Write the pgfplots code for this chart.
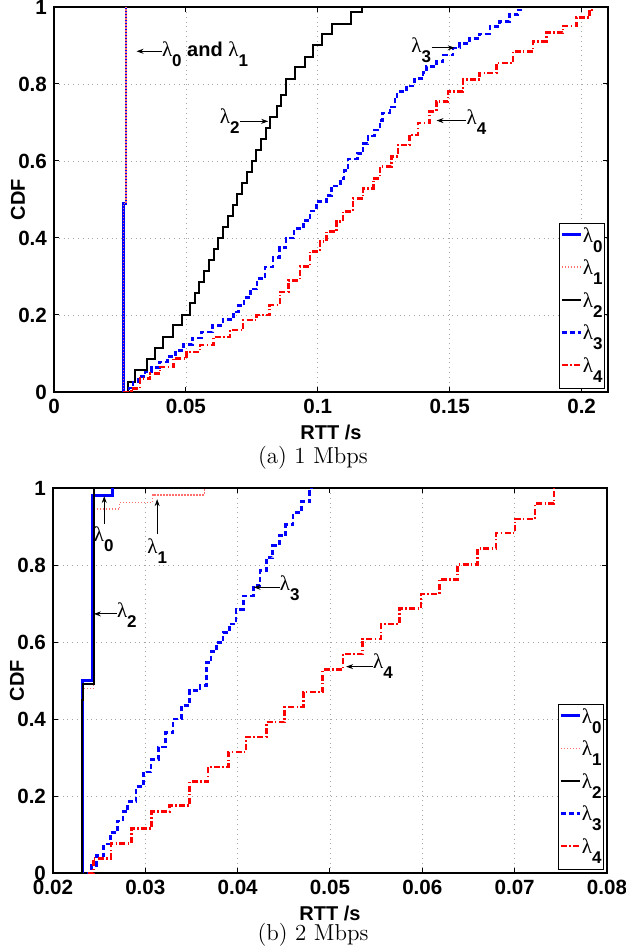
\documentclass[border=0pt]{standalone}
\usepackage{pgfplots}
\pgfplotsset{compat=1.18}
\usepackage{fontspec}
\usetikzlibrary{arrows.meta}
\newfontfamily\hv{Liberation Sans}
\newfontfamily\lsym{Liberation Serif}
\newcommand{\lam}[1]{{\lsym\fontsize{10.5}{11}\selectfont λ}\raisebox{-5pt}{\hv\bfseries\fontsize{8.5}{9}\selectfont #1}}
\definecolor{pinkl}{RGB}{255,110,110}
\tikzset{arr/.style={-{Stealth[length=3.5pt,width=2.5pt]}, line width=0.45pt, black}}

\pgfplotsset{
  cdfaxis/.style={
    scale only axis, width=277pt, height=192.5pt,
    ymin=0, ymax=1,
    ytick={0,0.2,0.4,0.6,0.8,1},
    yticklabels={0,0.2,0.4,0.6,0.8,1},
    scaled ticks=false,
    tick align=inside,
    major tick length=2.5pt,
    axis line style={line width=0.9pt},
    every tick/.style={black, line width=0.5pt},
    grid=major,
    grid style={dotted, gray!70, line width=0.4pt},
    tick label style={font=\hv\bfseries\fontsize{10.3}{11}\selectfont},
    xlabel={RTT /s}, ylabel={CDF},
    every axis x label/.style={at={(rel axis cs:0.5,0)}, yshift=-20pt, anchor=center,
      font=\hv\bfseries\fontsize{10}{11}\selectfont},
    every axis y label/.style={at={(rel axis cs:0,0.5)}, xshift=-18pt, rotate=90, anchor=center,
      font=\hv\bfseries\fontsize{10}{11}\selectfont},
    legend style={at={(1,0)}, anchor=south east, xshift=-1.5pt, yshift=1.5pt,
      draw=black, line width=0.7pt, fill=white, inner xsep=0.5pt, inner ysep=2pt,
      row sep=3pt, column sep=0pt,
      nodes={inner sep=0.4pt, text height=7pt, text depth=5.5pt}},
    legend cell align=left,
    legend image code/.code={\draw[#1] (0pt,3pt) -- (9.5pt,3pt);},
  },
  l0/.style={blue, line width=1.3pt},
  l1/.style={pinkl, line width=0.7pt, dash pattern=on 0.7pt off 0.8pt},
  l2/.style={black, line width=1pt},
  l3/.style={blue, line width=1.3pt, dash pattern=on 2.5pt off 1.5pt},
  l4/.style={red, line width=1.3pt, dash pattern=on 3pt off 1.2pt on 0.7pt off 1.2pt},
}

\pgfplotstableread{
x y
0.02626 0
0.02626 0.49
0.0273 1.0
}\aLzero

\pgfplotstableread{
x y
0.0263 0
0.0281 0.026
0.0307 0.057
0.0351 0.087
0.0383 0.113
0.0414 0.143
0.0452 0.174
0.0484 0.200
0.0515 0.230
0.0533 0.258
0.0551 0.286
0.0569 0.314
0.0587 0.343
0.0605 0.371
0.0623 0.400
0.0641 0.428
0.0659 0.457
0.0677 0.486
0.0695 0.514
0.0713 0.543
0.0731 0.571
0.0749 0.600
0.0767 0.629
0.0785 0.657
0.0803 0.686
0.0818 0.714
0.0844 0.743
0.0862 0.771
0.0881 0.814
0.0913 0.843
0.0951 0.871
0.0982 0.900
0.1014 0.929
0.1052 0.957
0.1127 0.986
0.1166 1.000
}\aLtwo

\pgfplotstableread{
x y
0.0263 0.000
0.0285 0.010
0.0300 0.026
0.0320 0.040
0.0345 0.052
0.0370 0.064
0.0400 0.078
0.0430 0.092
0.0460 0.108
0.0490 0.124
0.0525 0.140
0.0560 0.156
0.0600 0.172
0.0640 0.189
0.0680 0.208
0.0700 0.225
0.0720 0.245
0.0745 0.268
0.0770 0.295
0.0800 0.325
0.0830 0.350
0.0855 0.375
0.0880 0.400
0.0910 0.425
0.0945 0.445
0.0970 0.470
0.0995 0.495
0.1033 0.510
0.1052 0.535
0.1085 0.555
0.1100 0.575
0.1115 0.605
0.1150 0.620
0.1172 0.645
0.1190 0.665
0.1215 0.680
0.1235 0.705
0.1245 0.725
0.1273 0.740
0.1292 0.760
0.1300 0.780
0.1336 0.795
0.1367 0.815
0.1399 0.830
0.1411 0.845
0.1449 0.858
0.1475 0.875
0.1513 0.893
0.1538 0.905
0.1576 0.918
0.1614 0.930
0.1652 0.950
0.1689 0.963
0.1727 0.980
0.1759 0.992
0.1770 1.000
}\aLthree

\pgfplotstableread{
x y
0.0263 0.000
0.0294 0.009
0.0326 0.035
0.0364 0.048
0.0402 0.065
0.0452 0.087
0.0503 0.104
0.0553 0.122
0.0604 0.143
0.0667 0.161
0.0717 0.187
0.0768 0.200
0.0818 0.226
0.0856 0.260
0.0890 0.290
0.0932 0.326
0.0970 0.365
0.1008 0.391
0.1033 0.417
0.1071 0.443
0.1096 0.469
0.1134 0.503
0.1172 0.529
0.1210 0.555
0.1235 0.586
0.1279 0.612
0.1304 0.642
0.1348 0.668
0.1380 0.699
0.1424 0.729
0.1449 0.755
0.1494 0.781
0.1550 0.811
0.1614 0.829
0.1677 0.855
0.1740 0.885
0.1816 0.911
0.1866 0.933
0.1929 0.951
0.1980 0.972
0.2030 0.990
0.2040 1.000
}\aLfour

\pgfplotstableread{
x y
0.0232 0
0.0232 0.50
0.0243 0.98
0.02645 1.0
}\bLzero

\pgfplotstableread{
x y
0.0232 0
0.0232 0.48
0.0244 0.945
0.0272 0.963
0.0308 0.982
0.0364 1.0
}\bLone

\pgfplotstableread{
x y
0.0231 0
0.0231 0.45
0.02325 0.49
0.0244 1.0
}\bLtwo

\pgfplotstableread{
x y
0.0237 0.000
0.0242 0.020
0.0247 0.045
0.0255 0.075
0.0262 0.105
0.0270 0.135
0.0276 0.160
0.0281 0.185
0.0290 0.225
0.0298 0.262
0.0306 0.295
0.0314 0.327
0.0322 0.365
0.0330 0.400
0.0339 0.435
0.0348 0.474
0.0359 0.487
0.0366 0.547
0.0371 0.575
0.0377 0.599
0.0384 0.625
0.0391 0.647
0.0398 0.685
0.0406 0.720
0.0417 0.746
0.0424 0.785
0.0431 0.819
0.0438 0.850
0.0445 0.876
0.0452 0.905
0.0460 0.936
0.0469 0.965
0.0478 0.992
0.0480 1.000
}\bLthree

\pgfplotstableread{
x y
0.0238 0.000
0.0244 0.038
0.0263 0.077
0.0285 0.116
0.0307 0.159
0.03265 0.176
0.0348 0.237
0.0368 0.275
0.0390 0.314
0.0409 0.353
0.0431 0.392
0.0451 0.431
0.0471 0.470
0.0492 0.528
0.0514 0.569
0.05355 0.608
0.05553 0.647
0.05751 0.687
0.05986 0.725
0.06184 0.763
0.06382 0.802
0.06598 0.843
0.06796 0.883
0.07005 0.920
0.07222 0.959
0.07427 1.000
}\bLfour

\begin{document}
\begin{tikzpicture}
\begin{axis}[cdfaxis, at={(27pt,278.5pt)}, anchor=south west,
  xmin=0, xmax=0.21,
  xtick={0,0.05,0.1,0.15,0.2}, xticklabels={0,0.05,0.1,0.15,0.2}]
  \addplot[l0, const plot] table {\aLzero};
  \addlegendentry{\lam{0}}
  \addplot[l1, const plot] table {\aLzero};
  \addlegendentry{\lam{1}}
  \addplot[l2, const plot] table {\aLtwo};
  \addlegendentry{\lam{2}}
  \addplot[l3, const plot] table {\aLthree};
  \addlegendentry{\lam{3}}
  \addplot[l4, const plot] table {\aLfour};
  \addlegendentry{\lam{4}}
  % annotations
  \draw[arr] (axis cs:0.0408,0.885) -- (axis cs:0.0313,0.885);
  \node[anchor=base west, inner sep=0pt, yshift=-2.5pt] at (axis cs:0.0408,0.885)
    {\lam{0}{\hv\bfseries\fontsize{10}{11}\selectfont\ and }\lam{1}};
  \draw[arr] (axis cs:0.0705,0.703) -- (axis cs:0.0812,0.703);
  \node[anchor=base east, inner sep=0pt, yshift=-1pt] at (axis cs:0.0705,0.703) {\lam{2}};
  \draw[arr] (axis cs:0.1431,0.894) -- (axis cs:0.1519,0.894);
  \node[anchor=base east, inner sep=0pt, yshift=-2.5pt] at (axis cs:0.1431,0.894) {\lam{3}};
  \draw[arr] (axis cs:0.1563,0.705) -- (axis cs:0.1450,0.705);
  \node[anchor=base west, inner sep=0pt, yshift=-2pt] at (axis cs:0.1563,0.705) {\lam{4}};
\end{axis}
\node[font=\fontsize{11.5}{12}\selectfont] at (156.5pt,245.5pt) {(a) 1 Mbps};

\begin{axis}[cdfaxis, at={(26.5pt,38pt)}, anchor=south west,
  xmin=0.02, xmax=0.08,
  xtick={0.02,0.03,0.04,0.05,0.06,0.07,0.08},
  xticklabels={0.02,0.03,0.04,0.05,0.06,0.07,0.08}]
  \addplot[l0, const plot] table {\bLzero};
  \addlegendentry{\lam{0}}
  \addplot[l1, const plot] table {\bLone};
  \addlegendentry{\lam{1}}
  \addplot[l2, const plot] table {\bLtwo};
  \addlegendentry{\lam{2}}
  \addplot[l3, const plot] table {\bLthree};
  \addlegendentry{\lam{3}}
  \addplot[l4, const plot] table {\bLfour};
  \addlegendentry{\lam{4}}
  % annotations
  \draw[arr] (axis cs:0.02555,0.906) -- (axis cs:0.02555,0.979);
  \node[anchor=north, inner sep=0pt, yshift=-1pt] at (axis cs:0.02550,0.906) {\lam{0}};
  \draw[arr] (axis cs:0.03128,0.88) -- (axis cs:0.03128,0.971);
  \node[anchor=north, inner sep=0pt, yshift=-2pt] at (axis cs:0.03128,0.88) {\lam{1}};
  \draw[arr] (axis cs:0.02689,0.673) -- (axis cs:0.02443,0.673);
  \node[anchor=base west, inner sep=0pt, yshift=-2pt] at (axis cs:0.02689,0.673) {\lam{2}};
  \draw[arr] (axis cs:0.04454,0.742) -- (axis cs:0.04173,0.742);
  \node[anchor=base west, inner sep=0pt, yshift=-1.7pt] at (axis cs:0.04454,0.742) {\lam{3}};
  \draw[arr] (axis cs:0.05463,0.536) -- (axis cs:0.05175,0.536);
  \node[anchor=base west, inner sep=0pt, yshift=-1pt] at (axis cs:0.05463,0.536) {\lam{4}};
\end{axis}
\node[font=\fontsize{11.5}{12}\selectfont] at (156.5pt,7pt) {(b) 2 Mbps};
\pgfresetboundingbox
\path[use as bounding box] (0,0) rectangle (313pt,474.5pt);
\end{tikzpicture}
\end{document}
